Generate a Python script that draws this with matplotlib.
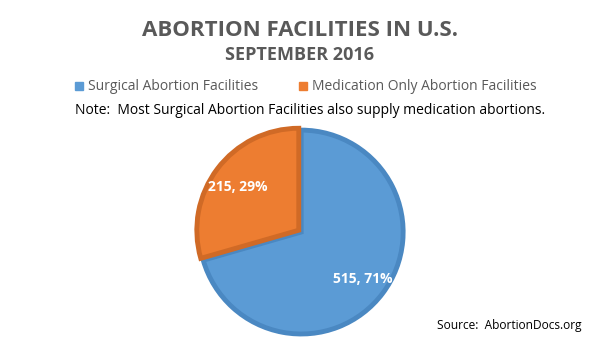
import matplotlib.pyplot as plt

labels = ['Surgical Abortion Facilities', 'Medication Only Abortion Facilities']
values = [515, 215]
pcts = [71, 29]
colors = ['#5B9BD5', '#ED7D31']
edges = ['#4A88C2', '#D06A26']

plt.rcParams['font.family'] = ['Open Sans', 'DejaVu Sans']

fig = plt.figure(figsize=(6, 3.5), dpi=100)
fig.patch.set_facecolor('white')

ax = fig.add_axes([0.327, 0.037, 0.35, 0.6])
wedges, _ = ax.pie(values, colors=colors, startangle=90, counterclock=False,
                   explode=[0, 0.03], radius=1.0,
                   wedgeprops=dict(linewidth=3.5))
for w, ec in zip(wedges, edges):
    w.set_edgecolor(ec)
ax.set_aspect('equal')
ax.set_xlim(-1.03, 1.03)
ax.set_ylim(-1.03, 1.03)

# data labels
ax.text(0.6, -0.46, f'{values[0]}, {pcts[0]}%', color='white', fontsize=10,
        fontweight='bold', ha='center', va='center')
ax.text(-0.62, 0.44, f'{values[1]}, {pcts[1]}%', color='white', fontsize=10,
        fontweight='bold', ha='center', va='center')

fig.text(0.5, 1 - 30/350, 'ABORTION FACILITIES IN U.S.', ha='center', va='center',
         fontsize=16, fontweight='bold', color='#595959')
fig.text(0.5, 1 - 55/350, 'SEPTEMBER 2016', ha='center', va='center',
         fontsize=13, fontweight='bold', color='#595959')

# legend
leg_y = 1 - 86/350
fig.patches.append(plt.Rectangle((75/600, leg_y - 4/350), 8/600, 8/350,
                                 transform=fig.transFigure, color=colors[0]))
fig.text(88/600, leg_y, labels[0], ha='left', va='center', fontsize=10, color='#595959')
fig.patches.append(plt.Rectangle((299/600, leg_y - 4/350), 8/600, 8/350,
                                 transform=fig.transFigure, color=colors[1]))
fig.text(312/600, leg_y, labels[1], ha='left', va='center', fontsize=10, color='#595959')

fig.text(310/600, 1 - 111/350, 'Note:  Most Surgical Abortion Facilities also supply medication abortions.',
         ha='center', va='center', fontsize=10, color='black')

fig.text(582/600, 1 - 326/350, 'Source:  AbortionDocs.org', ha='right', va='center',
         fontsize=8.6, color='black')

fig.savefig('out.png', dpi=100)
